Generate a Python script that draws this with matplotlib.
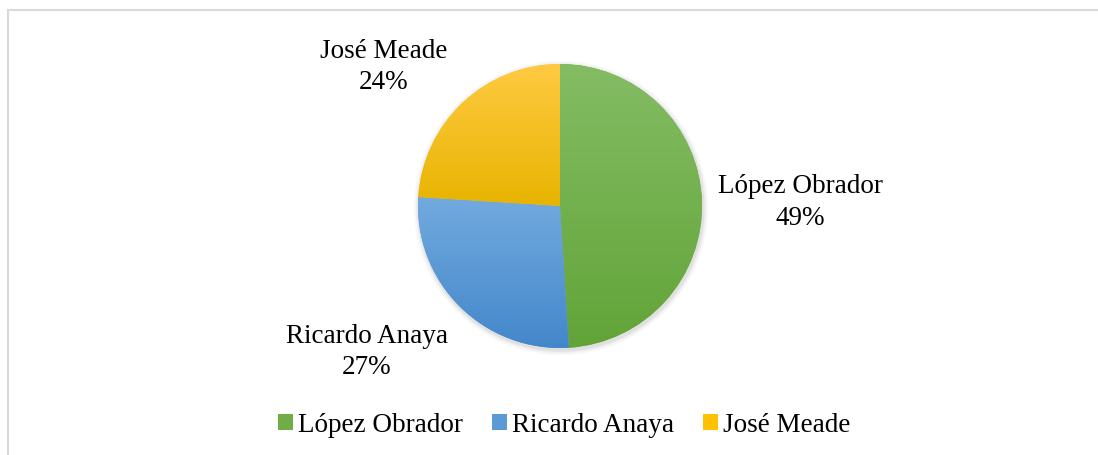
import matplotlib
matplotlib.use("Agg")
import matplotlib.pyplot as plt
import numpy as np
from matplotlib.colors import LinearSegmentedColormap
from matplotlib.lines import Line2D

# ---- data ----
candidates = ["López Obrador", "Ricardo Anaya", "José Meade"]
shares = [49, 27, 24]

# ---- style ----
mid_colors = ["#70AD47", "#5B9BD5", "#FFC000"]
top_colors = ["#84BC64", "#72AADE", "#FFCA42"]
bot_colors = ["#62A438", "#4387CB", "#E8B400"]
FONT = "Liberation Serif"
FS = 19.5

W, H = 1098, 456
fig = plt.figure(figsize=(W / 100, H / 100), dpi=100)
ax = fig.add_axes([0, 0, 1, 1])

cx, cy, r = 560, H - 207, 142

# soft shadow
for k, a in zip([5, 3, 1.5], [0.03, 0.04, 0.05]):
    sh = plt.Circle((cx + 1, cy - 2), r + k, color="black", alpha=a, lw=0, zorder=1)
    ax.add_patch(sh)

wedges, _ = ax.pie(shares, colors=mid_colors, startangle=90, counterclock=False,
                   center=(cx, cy), radius=r, wedgeprops=dict(linewidth=0, zorder=2),
                   frame=True)
ax.set_xlim(0, W)
ax.set_ylim(0, H)
ax.set_aspect("equal")
ax.axis("off")

for w, ct, cb in zip(wedges, top_colors, bot_colors):
    ext = w.get_path().get_extents()
    cmap = LinearSegmentedColormap.from_list("g", [cb, ct])
    grad = np.linspace(0, 1, 256).reshape(-1, 1)
    im = ax.imshow(grad, cmap=cmap, origin="lower", aspect="auto",
                   extent=(ext.x0, ext.x1, ext.y0, ext.y1), zorder=3)
    im.set_clip_path(w)

# data labels
label_pos = [(800, 193, 225), (367, 343, 374), (384, 58, 89)]
for name, val, (lx, b1, b2) in zip(candidates, shares, label_pos):
    ax.text(lx, H - b1, name, ha="center", va="baseline", fontsize=FS, family=FONT, color="#000000")
    ax.text(lx, H - b2, f"{val}%", ha="center", va="baseline", fontsize=FS, family=FONT, color="#000000")

# legend
leg = fig.legend(wedges, candidates, loc="center", bbox_to_anchor=(0.5141, 1 - 426 / H),
                 ncol=3, frameon=False, prop=dict(family=FONT, size=FS),
                 handlelength=0.55, handleheight=0.55, handletextpad=0.2,
                 columnspacing=1.06, borderaxespad=0)

# chart border (top and left visible)
fig.add_artist(Line2D([8 / W, 1], [1 - 10.5 / H, 1 - 10.5 / H], transform=fig.transFigure,
                      color="#D9D9D9", lw=1.5))
fig.add_artist(Line2D([8 / W, 8 / W], [0, 1 - 10.5 / H], transform=fig.transFigure,
                      color="#D9D9D9", lw=1.5))

fig.savefig("out.png", dpi=100, facecolor="white")
